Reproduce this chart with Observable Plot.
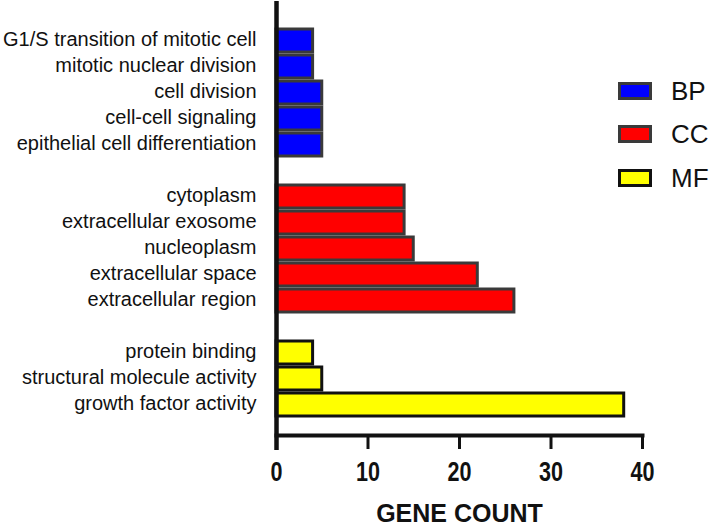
<!DOCTYPE html>
<html>
<head>
<meta charset="utf-8">
<script src="https://cdn.jsdelivr.net/npm/d3@7"></script>
<script src="https://cdn.jsdelivr.net/npm/@observablehq/plot@0.6"></script>
<style>
  html, body { margin: 0; padding: 0; background: #fff; }
  #wrap { position: relative; width: 709px; height: 528px; overflow: hidden; font-family: "Liberation Sans", Arial, sans-serif; }
  #legend { position: absolute; left: 0; top: 0; }
  .lg-item { position: absolute; left: 618px; display: flex; align-items: center; }
  .lg-box { width: 28px; height: 12px; border: 3px solid #3a3a3a; box-sizing: content-box; }
  .lg-text { margin-left: 19px; font-size: 26px; color: #111; line-height: 26px; }
</style>
</head>
<body>
<div id="wrap"><div id="chart"></div><div id="legend"></div></div>
<script>
// ---- data ----
const groups = ["BP", "CC", "MF"];
const bpTerms = ["G1/S transition of mitotic cell", "mitotic nuclear division", "cell division", "cell-cell signaling", "epithelial cell differentiation"];
const bpCounts = [4, 4, 5, 5, 5];
const ccTerms = ["cytoplasm", "extracellular exosome", "nucleoplasm", "extracellular space", "extracellular region"];
const ccCounts = [14, 14, 15, 22, 26];
const mfTerms = ["protein binding", "structural molecule activity", "growth factor activity"];
const mfCounts = [4, 5, 38];
const xTicks = [0, 10, 20, 30, 40];
const xLabel = "GENE COUNT";

// ---- build ----
const fills = {BP: "#0000ff", CC: "#ff0000", MF: "#ffff00"};
const strokes = {BP: "#3a3a3a", CC: "#3a3a3a", MF: "#111111"};
const toRows = (terms, counts, g) => terms.map((t, i) => ({term: t, count: counts[i], group: g}));
const bp = toRows(bpTerms, bpCounts, "BP");
const cc = toRows(ccTerms, ccCounts, "CC");
const mf = toRows(mfTerms, mfCounts, "MF");
const gap1 = "\u200b", gap2 = "\u200b\u200b";
const yDomain = [...bpTerms, gap1, ...ccTerms, gap2, ...mfTerms];
const allTerms = [...bpTerms, ...ccTerms, ...mfTerms];

const barMark = (rows, g) => Plot.barX(rows, {x: "count", y: "term", fill: fills[g], stroke: strokes[g], strokeWidth: 3});

const chart = Plot.plot({
  width: 709,
  height: 528,
  marginLeft: 276,
  marginRight: 67,
  marginTop: 24,
  marginBottom: 93,
  style: {fontFamily: '"Liberation Sans", Arial, sans-serif', background: "#fff", color: "#111"},
  x: {domain: [0, 40]},
  y: {domain: yDomain, paddingInner: 0.13, paddingOuter: 0, insetBottom: 15},
  marks: [
    barMark(bp, "BP"),
    barMark(cc, "CC"),
    barMark(mf, "MF"),
    Plot.axisY({ticks: allTerms, tickSize: 0, tickPadding: 20, fontSize: 20, dy: -1, label: null, fill: "#111"}),
    Plot.axisX({ticks: xTicks, tickSize: 14, tickPadding: 12, strokeWidth: 3, stroke: "#111", fontSize: 27, fontWeight: "bold",
      label: null, fill: "#111"}),
    Plot.frame({anchor: "bottom", stroke: "#111", strokeWidth: 4}),
    Plot.ruleX([0], {stroke: "#111", strokeWidth: 4.5, insetTop: -23, insetBottom: -15}),
    Plot.text([xLabel], {frameAnchor: "bottom", dy: 78, lineAnchor: "middle", fontSize: 25, fontWeight: "bold", fill: "#111"})
  ]
});
document.getElementById("chart").appendChild(chart);

// condensed look for the bold tick numbers
d3.select(chart).selectAll('g[aria-label="x-axis tick label"] text').each(function() {
  const len = this.getComputedTextLength();
  this.setAttribute("textLength", (len * 0.8).toFixed(1));
  this.setAttribute("lengthAdjust", "spacingAndGlyphs");
});

// ---- legend ----
const legendTops = {BP: 82, CC: 125, MF: 169};
const legend = document.getElementById("legend");
groups.forEach(g => {
  const item = document.createElement("div");
  item.className = "lg-item";
  item.style.top = (legendTops[g] + 9 - 13) + "px";
  item.style.height = "26px";
  const box = document.createElement("div");
  box.className = "lg-box";
  box.style.background = fills[g];
  box.style.borderColor = strokes[g];
  const txt = document.createElement("span");
  txt.className = "lg-text";
  txt.textContent = g;
  item.appendChild(box);
  item.appendChild(txt);
  legend.appendChild(item);
});
</script>
</body>
</html>
